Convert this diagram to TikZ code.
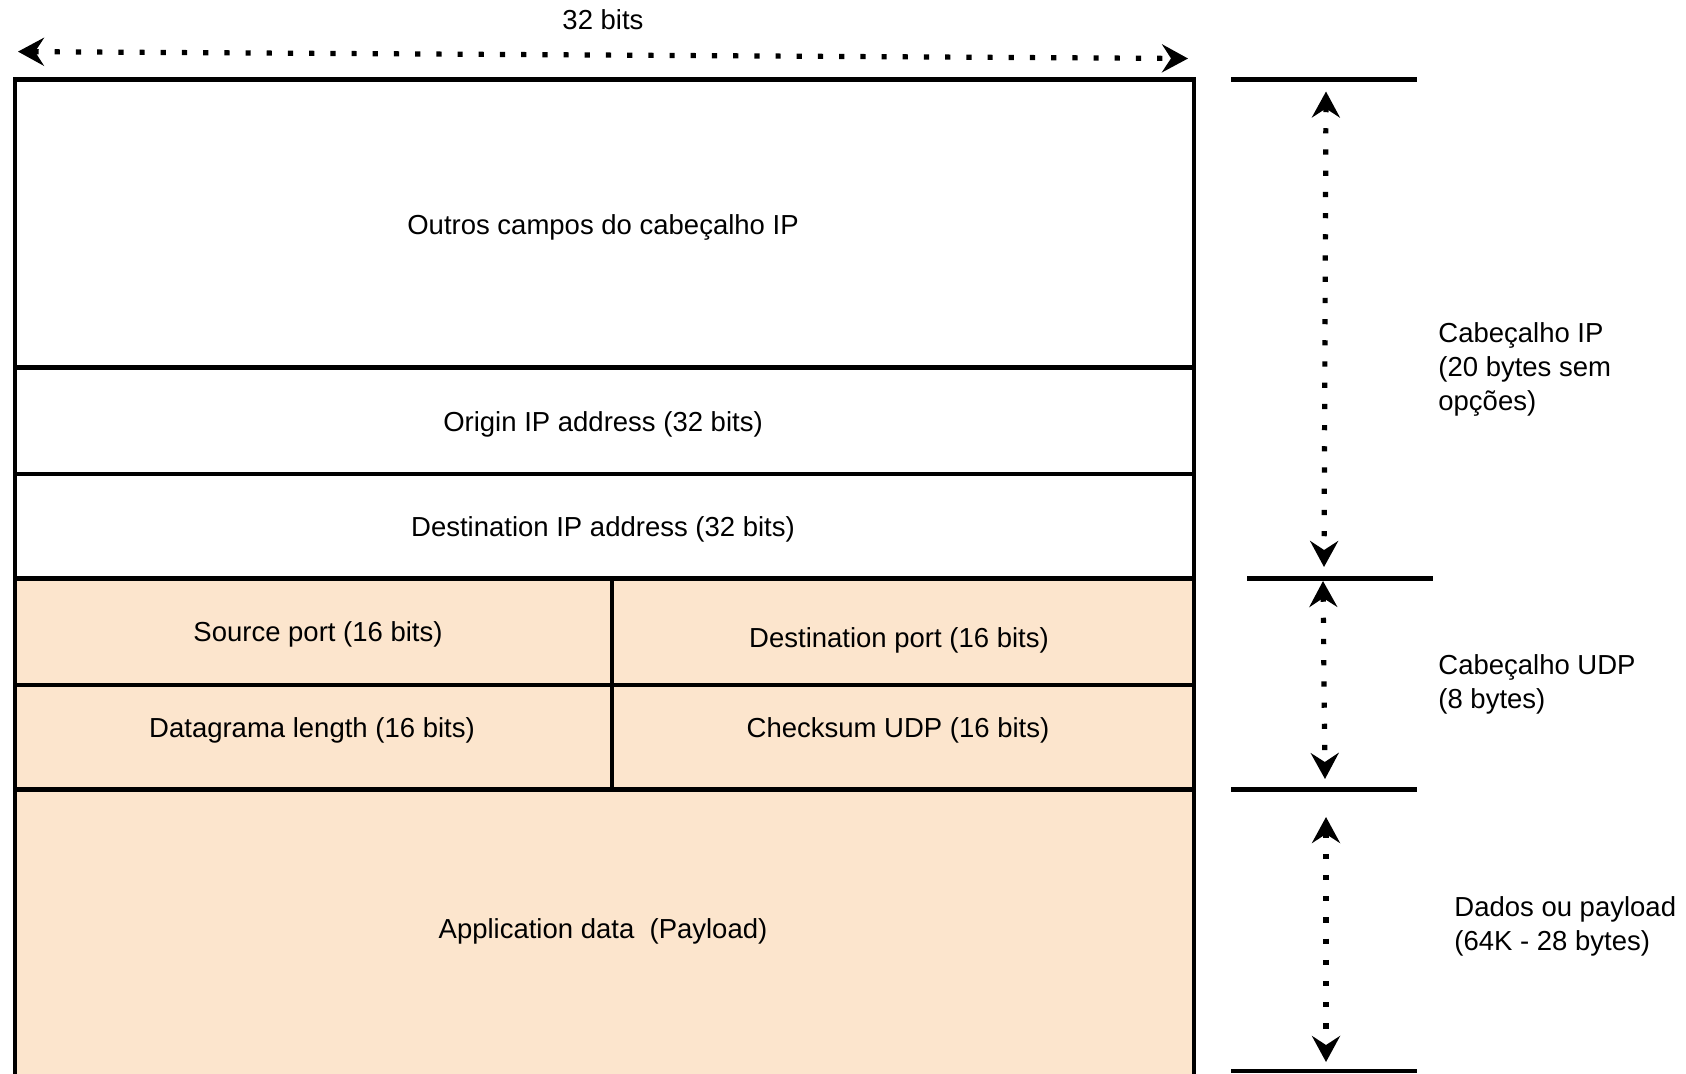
\documentclass[tikz,border=0pt]{standalone}
\usepackage{fontspec}
\setmainfont{Liberation Sans}
\usetikzlibrary{arrows.meta}
\definecolor{udpfill}{RGB}{252,229,205}
\begin{document}
\begin{tikzpicture}[x=0.5pt,y=-0.5pt,
  every node/.style={font=\fontsize{13.75}{17}\selectfont},
  cell/.style={draw, line width=2.2pt, rectangle, inner sep=0pt, outer sep=0pt, anchor=north west, fill=white},
  orange/.style={cell, fill=udpfill},
  celltext/.style={inner sep=0pt},
  bar/.style={line width=2.3pt},
  dimarrow/.style={line width=2.6pt, dash pattern=on 2.6pt off 8pt,
    {Stealth[length=13pt,width=14pt,inset=4.5pt]}-{Stealth[length=13pt,width=14pt,inset=4.5pt]}},
  side/.style={anchor=west, align=left, inner sep=0pt}
]
\useasboundingbox (0,0) rectangle (1686,1073);

% main header cells
\node[cell, minimum width=589.5pt, minimum height=144pt] (outros) at (15,79.6) {};
\node[cell, minimum width=589.5pt, minimum height=53.25pt] (origin) at (15,367.7) {};
\node[cell, minimum width=589.5pt, minimum height=52.15pt] (destip) at (15,474.2) {};
\node[orange, minimum width=298.4pt, minimum height=53.25pt] (srcport) at (15,578.5) {};
\node[orange, minimum width=291.1pt, minimum height=53.25pt] (dstport) at (611.8,578.5) {};
\node[orange, minimum width=298.4pt, minimum height=52.15pt] (dglen) at (15,685) {};
\node[orange, minimum width=291.1pt, minimum height=52.15pt] (chksum) at (611.8,685) {};
\node[orange, minimum width=589.5pt, minimum height=145.35pt] (payload) at (15,789.3) {};

% cell texts
\node[celltext] (toutros) at (603,227.5) {Outros campos do cabeçalho IP};
\node[celltext] (torigin) at (603,424) {Origin IP address (32 bits)};
\node[celltext] (tdestip) at (603,529.5) {Destination IP address (32 bits)};
\node[celltext] (tsrc) at (318,634) {Source port (16 bits)};
\node[celltext] (tdst) at (899,640.5) {Destination port (16 bits)};
\node[celltext] (tdg) at (312,730) {Datagrama length (16 bits)};
\node[celltext] (tck) at (898,730) {Checksum UDP (16 bits)};
\node[celltext] (tapp) at (603,931) {Application data~~(Payload)};

% top width dimension
\node (bits) at (603,19.4) {32 bits};
\coordinate (wl) at (18,51.6);
\coordinate (wr) at (1188,58.5);
\draw[dimarrow] (wl) -- (wr);

% right-side bars
\coordinate (t1a) at (1231,79.6);  \coordinate (t1b) at (1417,79.6);
\coordinate (t2a) at (1247,578.5); \coordinate (t2b) at (1433,578.5);
\coordinate (t3a) at (1231,789.3); \coordinate (t3b) at (1417,789.3);
\coordinate (t4a) at (1231,1071);  \coordinate (t4b) at (1417,1071);
\draw[bar] (t1a) -- (t1b);
\draw[bar] (t2a) -- (t2b);
\draw[bar] (t3a) -- (t3b);
\draw[bar] (t4a) -- (t4b);

% vertical dimension arrows
\coordinate (a1s) at (1326,91.5);  \coordinate (a1e) at (1324,567);
\coordinate (a2s) at (1323,581);   \coordinate (a2e) at (1325,779);
\coordinate (a3s) at (1326,817);   \coordinate (a3e) at (1326,1062);
\draw[dimarrow] (a1s) -- (a1e);
\draw[dimarrow] (a2s) -- (a2e);
\draw[dimarrow] (a3s) -- (a3e);

% side labels
\node[side] (lip) at (1438,369.5) {Cabeçalho IP\\(20 bytes sem\\opções)};
\node[side] (ludp) at (1438,684) {Cabeçalho UDP\\(8 bytes)};
\node[side] (ldata) at (1454,926.5) {Dados ou payload\\(64K - 28 bytes)};
\end{tikzpicture}
\end{document}
